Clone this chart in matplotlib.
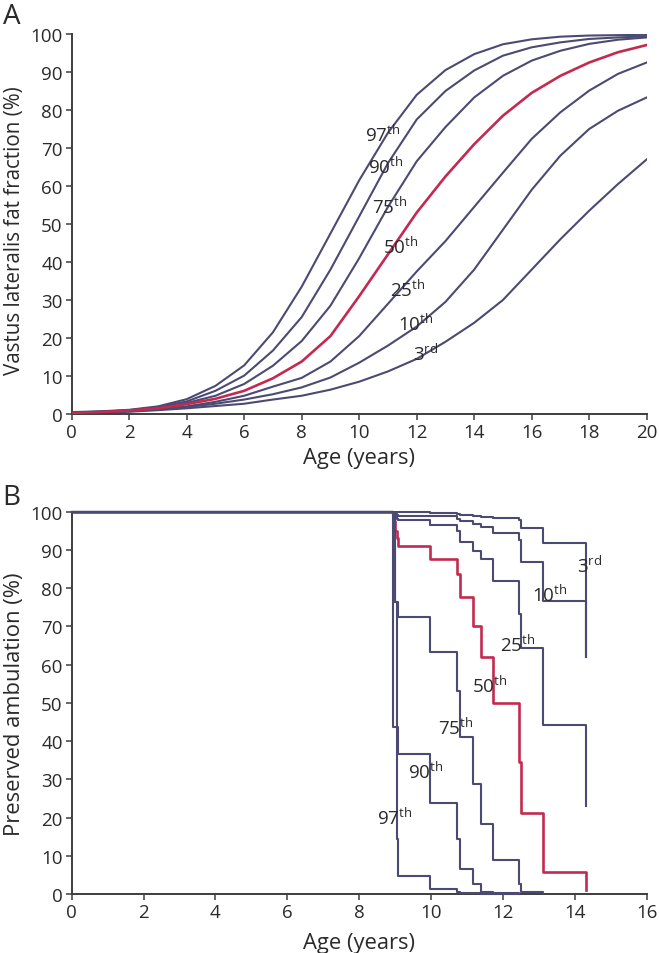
import matplotlib
matplotlib.use("Agg")
import matplotlib.pyplot as plt

plt.rcParams["font.family"] = ["Open Sans", "DejaVu Sans"]

NAVY = "#4b4a72"
RED = "#c42a50"
INK = "#2a2a2a"
AXIS = "#3d3d3d"

# Panel A: vastus lateralis fat fraction percentiles, read at whole years
ages_a = list(range(21))
ff_p97 = [0.5, 0.7, 1.1, 2.0, 3.9, 7.4, 12.8, 21.5, 33.5, 47.5, 61.5, 74.0, 84.0, 90.5, 94.7, 97.3, 98.6, 99.3, 99.6, 99.7, 99.8]
ff_p90 = [0.4, 0.6, 1.0, 1.8, 3.3, 6.1, 10.1, 16.7, 25.5, 38.0, 52.0, 66.0, 77.5, 85.0, 90.4, 94.3, 96.5, 97.8, 98.7, 99.1, 99.4]
ff_p75 = [0.4, 0.6, 0.9, 1.6, 2.9, 4.8, 7.9, 12.7, 19.2, 28.5, 41.0, 54.5, 66.5, 75.5, 83.3, 89.0, 93.0, 95.6, 97.4, 98.5, 99.1]
ff_p50 = [0.3, 0.5, 0.9, 1.5, 2.6, 4.0, 6.1, 9.4, 13.8, 20.5, 31.0, 42.0, 53.0, 62.5, 71.0, 78.5, 84.5, 89.0, 92.5, 95.2, 97.1]
ff_p25 = [0.3, 0.5, 0.8, 1.3, 2.0, 3.2, 4.8, 7.2, 9.5, 13.8, 20.5, 29.0, 37.5, 45.5, 54.5, 63.5, 72.4, 79.4, 85.1, 89.5, 92.5]
ff_p10 = [0.2, 0.4, 0.7, 1.2, 1.8, 2.7, 3.8, 5.2, 7.0, 9.6, 13.5, 18.0, 23.0, 29.5, 38.0, 48.5, 59.0, 68.0, 75.0, 79.8, 83.3]
ff_p3 = [0.2, 0.3, 0.6, 1.0, 1.5, 2.1, 2.7, 3.8, 4.8, 6.4, 8.5, 11.2, 14.5, 19.0, 24.0, 30.0, 38.0, 46.0, 53.5, 60.5, 67.0]

# Panel B: preserved ambulation, step curves at shared event ages
event_ages = [0, 8.95, 9.0, 9.05, 9.09, 9.97, 10.73, 10.81, 11.18, 11.38, 11.71, 12.44, 12.51, 13.12, 14.31]
amb_p3 = [100, 99.9, 99.9, 99.8, 99.8, 99.6, 99.3, 99.1, 98.9, 98.7, 98.3, 97.8, 95.7, 91.7, 62.0]
amb_p10 = [100, 99.6, 99.3, 99.1, 99.0, 98.8, 98.0, 97.5, 96.8, 96.0, 94.5, 92.5, 86.8, 76.7, 62.0]
amb_p25 = [100, 99.5, 98.8, 98.0, 97.7, 96.5, 95.0, 92.0, 89.8, 87.6, 82.0, 73.3, 64.3, 44.2, 23.1]
amb_p50 = [100, 97.5, 95.0, 93.0, 91.1, 87.6, 83.6, 77.6, 70.2, 62.0, 50.0, 34.5, 21.2, 5.7, 1.0]
amb_p75 = [100, 99.5, 76.3, 76.3, 72.4, 63.3, 53.2, 41.2, 28.8, 18.3, 8.9, 2.6, 0.6, 0.3]
amb_p90 = [100, 99.0, 76.3, 43.6, 36.6, 23.9, 14.4, 6.6, 2.6, 0.6, 0.3, 0.1]
amb_p97 = [100, 43.6, 43.6, 14.4, 4.8, 1.3, 0.6, 0.4, 0.2, 0.1, 0.05, 0.0]

pct_names = ["97", "90", "75", "50", "25", "10", "3"]
pct_suffix = ["th", "th", "th", "th", "th", "th", "rd"]


def style_axes(ax, xmax, ylabel, xlabel_y, ylabel_size, ylabel_mid):
    ax.set_xlim(0, xmax)
    ax.set_ylim(0, 100)
    ax.set_xticks(range(0, xmax + 1, 2))
    ax.set_yticks(range(0, 101, 10))
    for side in ["top", "right"]:
        ax.spines[side].set_visible(False)
    for side in ["left", "bottom"]:
        ax.spines[side].set_linewidth(1.4)
        ax.spines[side].set_color(AXIS)
    ax.tick_params(direction="out", length=4.5, width=1.1, color=AXIS,
                   labelsize=13.5, labelcolor=INK, pad=2)
    ax.set_xlabel("Age (years)", fontsize=15.8, color=INK)
    ax.set_ylabel(ylabel, fontsize=ylabel_size, color=INK)
    ax.yaxis.set_label_coords(-0.081, ylabel_mid)
    ax.xaxis.set_label_coords(0.5, xlabel_y)


def pct_label(ax, x, y, i):
    ax.text(x, y, pct_names[i] + r"$^\mathregular{" + pct_suffix[i] + "}$",
            fontsize=13.5, color=INK, ha="left", va="center", zorder=5)


fig = plt.figure(figsize=(6.59, 9.54), dpi=100)

# ---- panel A
ax_a = fig.add_axes([0.1088, 0.565, 0.8725, 0.3983])
curves_a = [ff_p97, ff_p90, ff_p75, ff_p50, ff_p25, ff_p10, ff_p3]
for i, vals in enumerate(curves_a):
    if pct_names[i] == "50":
        ax_a.plot(ages_a, vals, color=RED, lw=1.9, zorder=3)
    else:
        ax_a.plot(ages_a, vals, color=NAVY, lw=1.5, zorder=2)
style_axes(ax_a, 20, "Vastus lateralis fat fraction (%)", -0.088, 14.8, 0.485)

label_pos_a = [(10.2, 73.7), (10.3, 65.3), (10.45, 54.7), (10.83, 44.2),
               (11.07, 33.0), (11.35, 24.0), (11.87, 16.0)]
for i, (x, y) in enumerate(label_pos_a):
    pct_label(ax_a, x, y, i)

# ---- panel B
ax_b = fig.add_axes([0.1088, 0.0618, 0.8725, 0.4008])
curves_b = [amb_p97, amb_p90, amb_p75, amb_p50, amb_p25, amb_p10, amb_p3]
for i, vals in enumerate(curves_b):
    xs = event_ages[:len(vals)]
    if pct_names[i] == "50":
        ax_b.plot(xs, vals, drawstyle="steps-post", color=RED, lw=1.9, zorder=2, clip_on=False)
    else:
        ax_b.plot(xs, vals, drawstyle="steps-post", color=NAVY, lw=1.5, zorder=3, clip_on=False)
style_axes(ax_b, 16, "Preserved ambulation (%)", -0.098, 15.8, 0.5)

label_pos_b = [(8.49, 20.1), (9.36, 32.2), (10.19, 43.7), (11.14, 54.7),
               (11.91, 65.4), (12.81, 78.5), (14.06, 86.0)]
for i, (x, y) in enumerate(label_pos_b):
    pct_label(ax_b, x, y, i)

fig.text(0.004, 0.997, "A", fontsize=20, color=INK, ha="left", va="top")
fig.text(0.004, 0.493, "B", fontsize=20, color=INK, ha="left", va="top")

fig.savefig("out.png", dpi=100)
